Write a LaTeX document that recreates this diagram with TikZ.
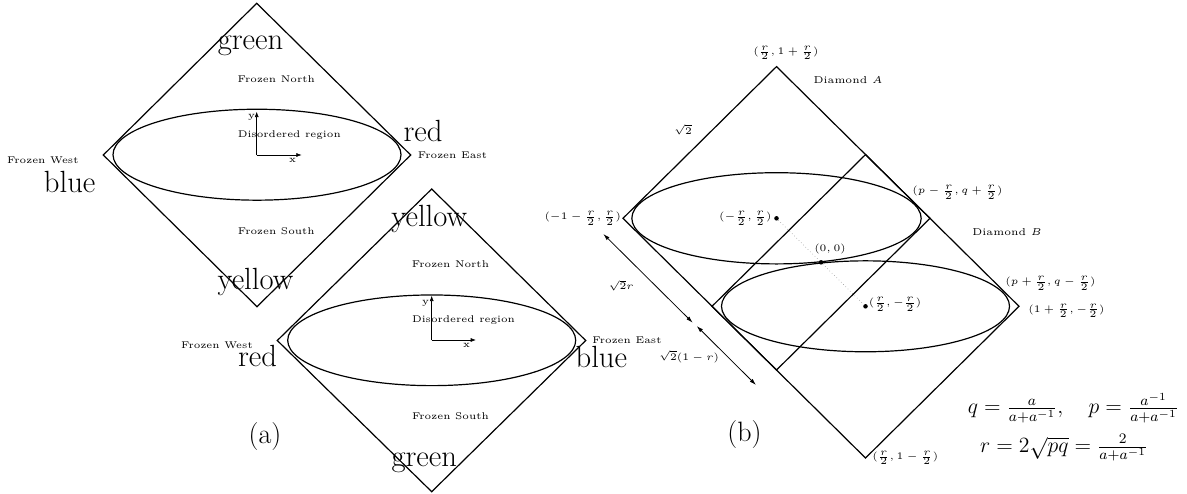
\documentclass[tikz,border=0pt]{standalone}
\usetikzlibrary{arrows.meta}
\begin{document}
\begin{tikzpicture}[x=0.75pt,y=-0.75pt,
  diam/.style={line width=0.9pt, line join=miter},
  ell/.style={line width=0.9pt},
  axis/.style={line width=0.5pt,-{Latex[length=4pt,width=3pt]}},
  dim/.style={line width=0.6pt,{Latex[length=5pt,width=3pt]}-{Latex[length=5pt,width=3pt]}},
  lab/.style={font=\fontsize{5}{6}\selectfont, scale=1.46, inner sep=0pt, anchor=base},
  mlab/.style={font=\fontsize{5}{6}\selectfont, scale=1.5, inner sep=0pt},
  big/.style={font=\fontsize{23}{28}\selectfont, inner sep=0pt, anchor=base},
  captxt/.style={font=\fontsize{21}{25}\selectfont, inner sep=0pt},
  formula/.style={font=\fontsize{12}{14}\selectfont, scale=1.36, inner sep=0pt},
  dot/.style={circle, fill=black, inner sep=0pt, minimum size=3.4pt}]
\useasboundingbox (0,0) rectangle (1187,493);

% ---------- (a) upper diamond ----------
\coordinate (Pt) at (256.7,3.3);
\coordinate (Pr) at (410.7,155);
\coordinate (Pb) at (257,306.7);
\coordinate (Pl) at (103.3,155);
\coordinate (Pc) at (257,154.7);
\draw[diam] (Pt) -- (Pr) -- (Pb) -- (Pl) -- cycle;
\draw[ell] (Pc) ellipse [x radius=108pt, y radius=34.1pt];
\coordinate (Po) at (256.7,155);
\coordinate (Px) at (301.7,155);
\coordinate (Py) at (256.7,111.7);
\draw[axis] (Po) -- (Px);
\draw[axis] (Po) -- (Py);
\node[lab, anchor=center] (Pxl) at (292.7,160) {x};
\node[lab, anchor=center] (Pyl) at (251.5,117.5) {y};
\node[big] (Pgreen) at (250.5,49.5) {green};
\node[lab] (PN) at (276.3,82.3) {Frozen North};
\node[lab] (PD) at (289.3,137.7) {Disordered region};
\node[big] (Pred) at (423,141.7) {red};
\node[lab] (PE) at (452.5,158.5) {Frozen East};
\node[lab] (PW) at (42.8,163.3) {Frozen West};
\node[big] (Pblue) at (69.7,192) {blue};
\node[lab] (PS) at (276.3,234.3) {Frozen South};
\node[big] (Pyellow) at (255.5,289.3) {yellow};

% ---------- (a) lower diamond ----------
\coordinate (Qt) at (431.7,189);
\coordinate (Qr) at (585.7,340.5);
\coordinate (Qb) at (431.7,491.7);
\coordinate (Ql) at (277.3,340.5);
\coordinate (Qc) at (431.7,340.3);
\draw[diam] (Qt) -- (Qr) -- (Qb) -- (Ql) -- cycle;
\draw[ell] (Qc) ellipse [x radius=108pt, y radius=34pt];
\coordinate (Qo) at (431.7,340);
\coordinate (Qx) at (476,340);
\coordinate (Qy) at (431.7,295.7);
\draw[axis] (Qo) -- (Qx);
\draw[axis] (Qo) -- (Qy);
\node[lab, anchor=center] (Qxl) at (466.7,345) {x};
\node[lab, anchor=center] (Qyl) at (425.7,303.3) {y};
\node[big] (Qyellow) at (429.3,226.7) {yellow};
\node[lab] (QN) at (450.5,267.7) {Frozen North};
\node[lab] (QD) at (463.5,322.7) {Disordered region};
\node[lab] (QW) at (217,348.3) {Frozen West};
\node[big] (Qred) at (257.5,366.7) {red};
\node[lab] (QE) at (627,343.3) {Frozen East};
\node[big] (Qblue) at (601.3,367.3) {blue};
\node[lab] (QS) at (450.5,419.3) {Frozen South};
\node[big] (Qgreen) at (424.3,466) {green};
\node[captxt] (capa) at (265,437) {(a)};

% ---------- (b) ----------
\coordinate (Ac) at (776.5,218.3);
\coordinate (At) at (776.5,66.6);
\coordinate (Ar) at (930,218.3);
\coordinate (Ab) at (776.5,370);
\coordinate (Al) at (623,218.3);
\coordinate (Bc) at (865.5,306.3);
\coordinate (Bt) at (865.5,154.6);
\coordinate (Br) at (1019,306.3);
\coordinate (Bb) at (865.5,458);
\coordinate (Bl) at (712,306.3);
\draw[diam] (At) -- (Ar) -- (Ab) -- (Al) -- cycle;
\draw[diam] (Bt) -- (Br) -- (Bb) -- (Bl) -- cycle;
\draw[ell] (Ac) ellipse [x radius=108.5pt, y radius=34.2pt];
\draw[ell] (Bc) ellipse [x radius=108pt, y radius=34.1pt];
\node[dot] (dA) at (Ac) {};
\node[dot] (dB) at (Bc) {};
\node[dot] (dO) at (821,262.3) {};
\draw[dotted, line width=0.4pt, gray] (dA) -- (dO) -- (dB);

\coordinate (a1s) at (603.3,234);
\coordinate (a1e) at (692.7,322.7);
\coordinate (a2s) at (696.7,326);
\coordinate (a2e) at (756,385);
\draw[dim] (a1s) -- (a1e);
\draw[dim] (a2s) -- (a2e);

\node[mlab] (lAt) at (786,53) {$(\frac{r}{2},1+\frac{r}{2})$};
\node[mlab] (lDA) at (848,80) {Diamond $A$};
\node[mlab] (lsq) at (683,130) {$\sqrt{2}$};
\node[mlab, anchor=east] (lAl) at (621.5,218.3) {$(-1-\frac{r}{2},\frac{r}{2})$};
\node[mlab, anchor=east] (lAc) at (772,218.3) {$(-\frac{r}{2},\frac{r}{2})$};
\node[mlab] (lO) at (830,249) {$(0,0)$};
\node[mlab, anchor=west] (lPA) at (912,192.3) {$(p-\frac{r}{2},q+\frac{r}{2})$};
\node[mlab] (lDB) at (1007,232.3) {Diamond $B$};
\node[mlab, anchor=west] (lPB) at (1005,283.3) {$(p+\frac{r}{2},q-\frac{r}{2})$};
\node[mlab, anchor=west] (lBr) at (1028,310.7) {$(1+\frac{r}{2},-\frac{r}{2})$};
\node[mlab, anchor=west] (lBc) at (868.5,304.3) {$(\frac{r}{2},-\frac{r}{2})$};
\node[mlab, anchor=west] (lBb) at (872,458) {$(\frac{r}{2},1-\frac{r}{2})$};
\node[mlab] (lr1) at (621,285.7) {$\sqrt{2}r$};
\node[mlab] (lr2) at (689,356.7) {$\sqrt{2}(1-r)$};
\node[captxt] (capb) at (744.5,435) {(b)};
\node[formula] (f1) at (1073.3,408) {$q=\frac{a}{a+a^{-1}},\quad p=\frac{a^{-1}}{a+a^{-1}}$};
\node[formula] (f2) at (1064,448) {$r=2\sqrt{pq}=\frac{2}{a+a^{-1}}$};
\end{tikzpicture}
\end{document}
